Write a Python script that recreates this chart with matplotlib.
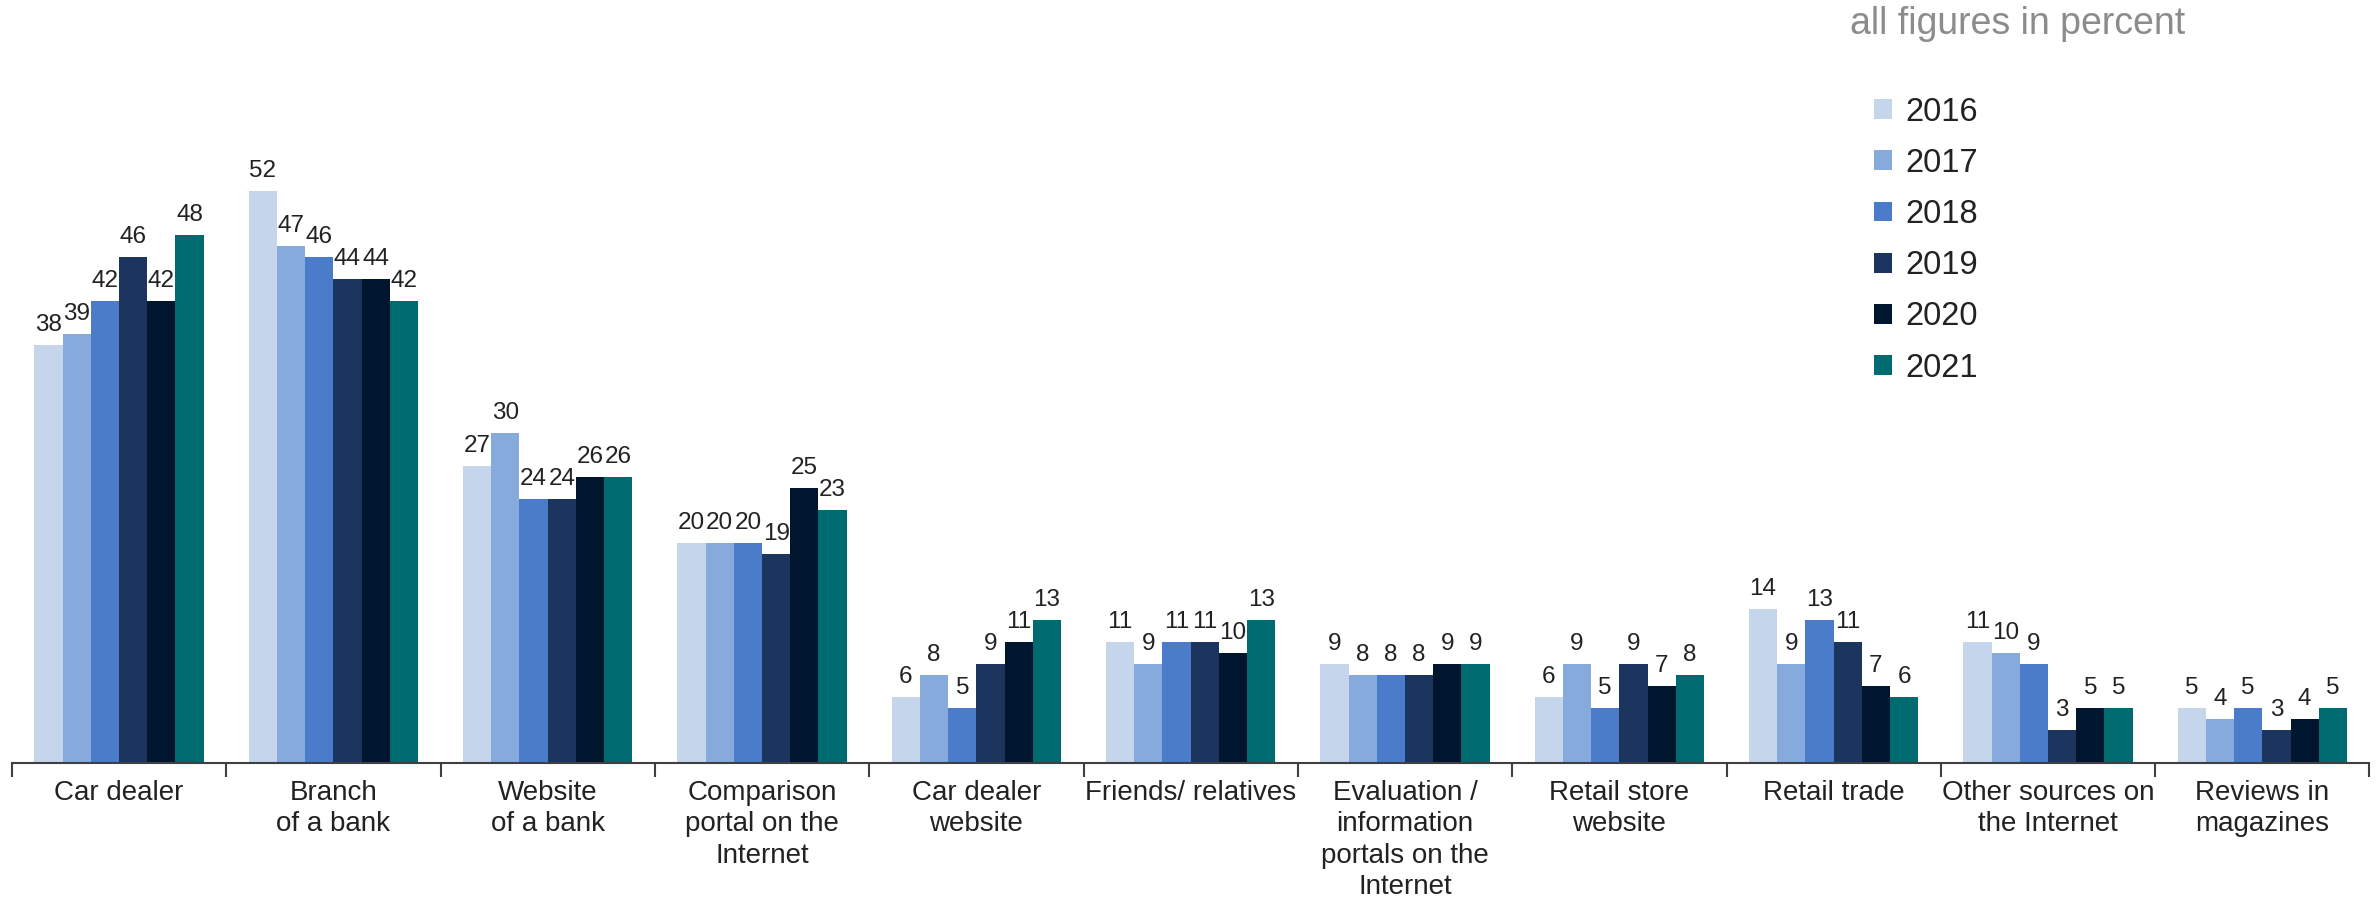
import numpy as np
import matplotlib.pyplot as plt

# Categories and yearly shares (percent)
categories = ['Car dealer', 'Branch\nof a bank', 'Website\nof a bank',
              'Comparison\nportal on the\nInternet', 'Car dealer\nwebsite',
              'Friends/ relatives', 'Evaluation /\ninformation\nportals on the\nInternet',
              'Retail store\nwebsite', 'Retail trade', 'Other sources on\nthe Internet',
              'Reviews in\nmagazines']
years = ['2016', '2017', '2018', '2019', '2020', '2021']
v2016 = [38, 52, 27, 20, 6, 11, 9, 6, 14, 11, 5]
v2017 = [39, 47, 30, 20, 8, 9, 8, 9, 9, 10, 4]
v2018 = [42, 46, 24, 20, 5, 11, 8, 5, 13, 9, 5]
v2019 = [46, 44, 24, 19, 9, 11, 8, 9, 11, 3, 3]
v2020 = [42, 44, 26, 25, 11, 10, 9, 7, 7, 5, 4]
v2021 = [48, 42, 26, 23, 13, 13, 9, 8, 6, 5, 5]
series = [v2016, v2017, v2018, v2019, v2020, v2021]
colors = ['#c5d5ec', '#87aadc', '#4a7cc9', '#1c355e', '#00162e', '#006a71']

fig = plt.figure(figsize=(23.79, 8.98), dpi=100)
ax = fig.add_axes([0.005, 0.150, 0.991, 0.85])

x = np.arange(len(categories))
n = len(series)
bw = 0.79 / n
for i, (vals, col, yr) in enumerate(zip(series, colors, years)):
    bars = ax.bar(x + (i - (n - 1) / 2) * bw, vals, width=bw, color=col, label=yr)
    ax.bar_label(bars, labels=[str(v) for v in vals], padding=7,
                 fontsize=17.5, color='#222222', family='Liberation Sans')

ax.set_xlim(-0.5, len(categories) - 0.5)
ax.set_ylim(0, 69.4)
for s in ['top', 'right', 'left']:
    ax.spines[s].set_visible(False)
ax.spines['bottom'].set_color('#404040')
ax.spines['bottom'].set_linewidth(1.5)
ax.set_yticks([])

ax.set_xticks(x)
ax.set_xticklabels(categories, fontsize=20, color='#222222', linespacing=1.27,
                   family='Liberation Sans', va='top')
ax.tick_params(axis='x', which='major', length=0, pad=12)
ax.set_xticks(np.arange(len(categories) + 1) - 0.5, minor=True)
ax.tick_params(axis='x', which='minor', length=10, width=1.5, color='#404040')

leg = ax.legend(loc='upper left', bbox_to_anchor=(0.7775, 0.912), frameon=False,
                prop={'family': 'Liberation Sans', 'size': 23.5}, handlelength=0.55,
                handleheight=0.55, handletextpad=0.4, labelspacing=0.62)
for t in leg.get_texts():
    t.set_color('#222222')

fig.text(0.848, 0.973, 'all figures in percent', fontsize=27, color='#8c8c8c',
         family='Liberation Sans', ha='center', va='center')

fig.savefig('out.png', dpi=100)
